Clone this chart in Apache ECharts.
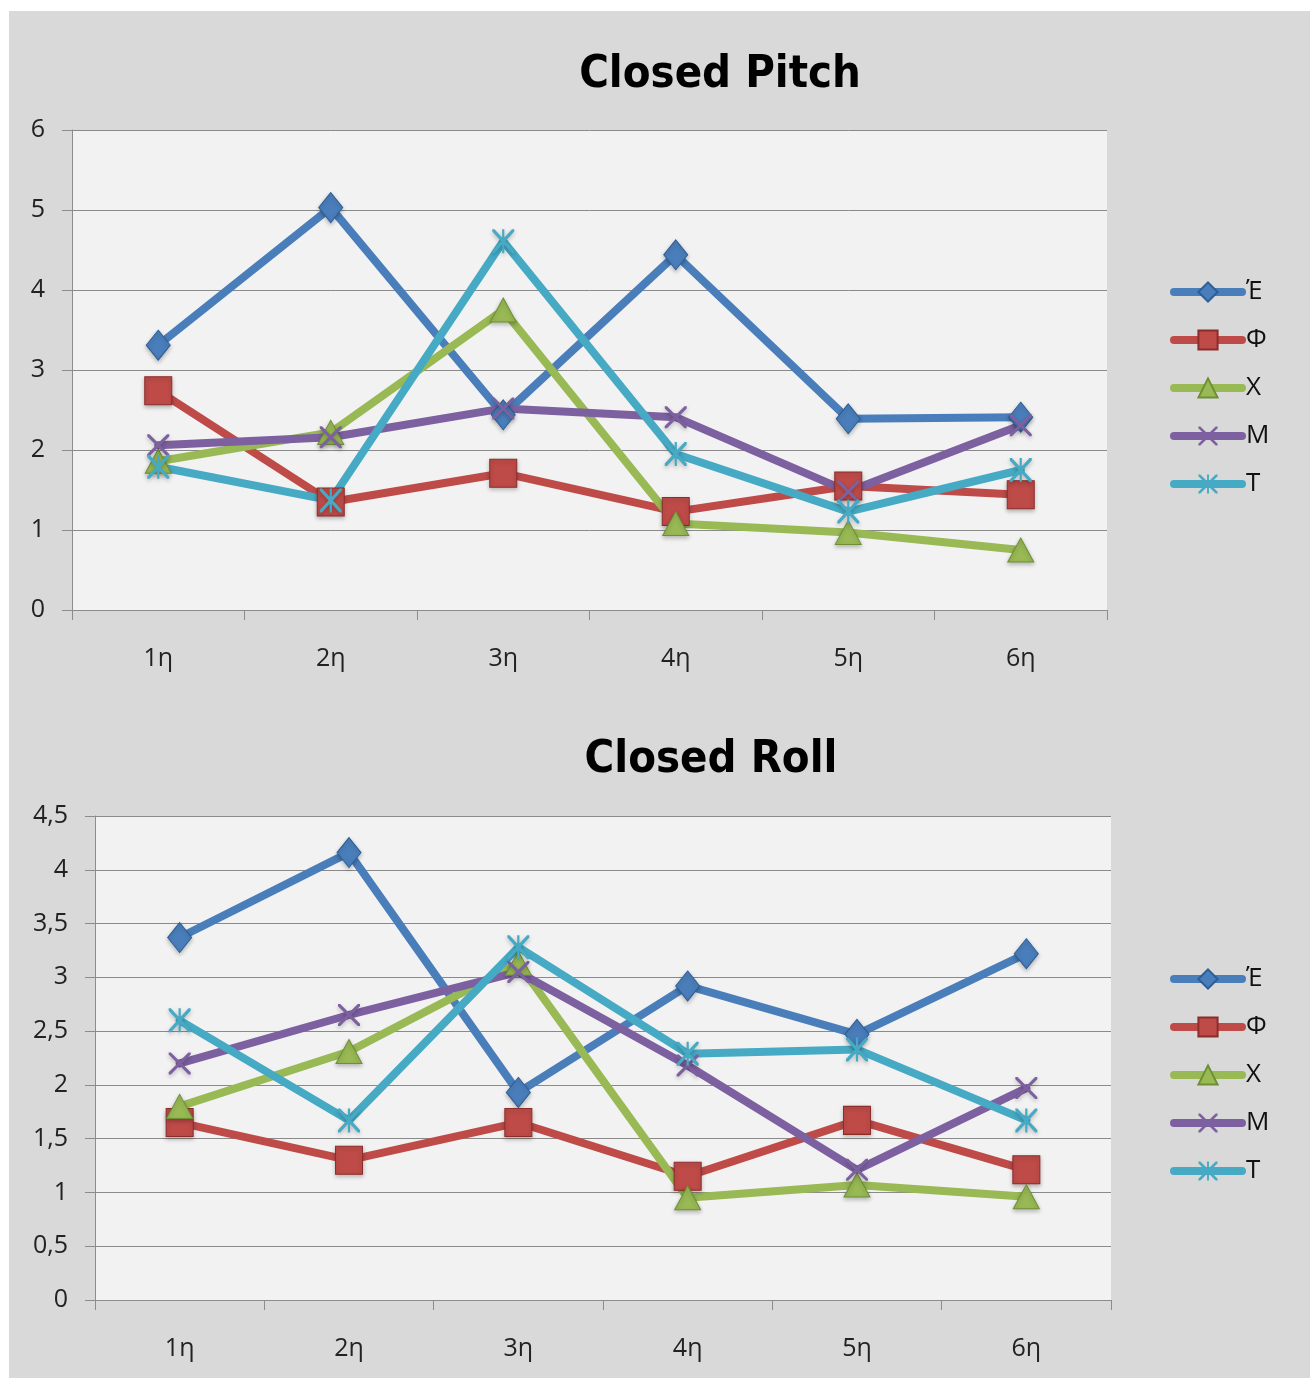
<!DOCTYPE html>
<html>
<head>
<meta charset="utf-8">
<script src="https://cdn.jsdelivr.net/npm/echarts@6/dist/echarts.min.js"></script>
<style>
  html, body { margin: 0; padding: 0; background: #ffffff; }
  #chart { position: absolute; left: 9px; top: 11px; width: 1301px; height: 1367px; }
</style>
</head>
<body>
<div id="chart"></div>
<script>
// Session categories and series names
const categories = ['1η', '2η', '3η', '4η', '5η', '6η'];
const seriesNames = ['Έ', 'Φ', 'Χ', 'Μ', 'Τ'];

// Closed Pitch values per series
const pitchE = [3.31, 5.03, 2.44, 4.44, 2.39, 2.41];
const pitchF = [2.74, 1.35, 1.71, 1.23, 1.55, 1.44];
const pitchX = [1.86, 2.22, 3.75, 1.08, 0.97, 0.75];
const pitchM = [2.06, 2.16, 2.52, 2.41, 1.48, 2.31];
const pitchT = [1.79, 1.37, 4.61, 1.95, 1.23, 1.75];

// Closed Roll values per series
const rollE = [3.37, 4.16, 1.93, 2.92, 2.47, 3.22];
const rollF = [1.65, 1.30, 1.65, 1.15, 1.67, 1.21];
const rollX = [1.80, 2.31, 3.13, 0.95, 1.07, 0.96];
const rollM = [2.20, 2.65, 3.05, 2.18, 1.21, 1.97];
const rollT = [2.60, 1.67, 3.28, 2.29, 2.33, 1.67];

// Axis tick settings
const pitchTicks = { min: 0, max: 6, interval: 1 };
const rollTicks = { min: 0, max: 4.5, interval: 0.5 };

const colors = ['#4a7ebb', '#be4b48', '#98b954', '#7d60a0', '#46aac5'];
const borders = ['#2c5d96', '#8c2d2a', '#6f8f35', '#5a4080', '#2b8aa5'];

const crossPath = 'path://M0,0 L2,0 L10,8 L18,0 L20,0 L20,2 L12,10 L20,18 L20,20 L18,20 L10,12 L2,20 L0,20 L0,18 L8,10 L0,2 Z';
const starPath = 'path://M0,0 L2,0 L10,8 L18,0 L20,0 L20,2 L12,10 L20,18 L20,20 L18,20 L10,12 L2,20 L0,20 L0,18 L8,10 L0,2 Z M9,0 L11,0 L11,20 L9,20 Z';
const symbols = ['diamond', 'rect', 'triangle', crossPath, starPath];
const symbolSizes = [[24, 30], [27, 28], [26, 24], [22, 22], [22, 24]];

const FONT = '"Open Sans", "Noto Sans", sans-serif';
const TITLE_FONT = '"Liberation Sans Narrow", "DejaVu Sans Condensed", "Open Sans", sans-serif';

function makeSeries(dataList, gridIdx) {
  return dataList.map((d, i) => ({
    name: seriesNames[i],
    type: 'line',
    xAxisIndex: gridIdx,
    yAxisIndex: gridIdx,
    data: d,
    symbol: symbols[i],
    symbolSize: symbolSizes[i],
    showAllSymbol: true,
    lineStyle: { width: 8, color: colors[i], cap: 'round', join: 'round' },
    itemStyle: {
      color: colors[i],
      borderColor: i < 3 ? borders[i] : colors[i],
      borderWidth: i < 3 ? 1 : 0,
      shadowColor: 'rgba(0,0,0,0.25)',
      shadowBlur: 4,
      shadowOffsetY: 2
    },
    emphasis: { disabled: true },
    animation: false
  }));
}

function xAxisFor(gridIdx) {
  return {
    type: 'category',
    gridIndex: gridIdx,
    data: categories,
    boundaryGap: true,
    axisLine: { lineStyle: { color: '#8c8c8c', width: 1 } },
    axisTick: { show: true, length: 10, lineStyle: { color: '#8c8c8c' } },
    axisLabel: { color: '#222', fontSize: 25, fontFamily: FONT, margin: 36 }
  };
}

function yAxisFor(gridIdx, ticks, comma) {
  return {
    type: 'value',
    gridIndex: gridIdx,
    min: ticks.min,
    max: ticks.max,
    interval: ticks.interval,
    axisLine: { show: true, lineStyle: { color: '#8c8c8c', width: 1 } },
    axisTick: { show: true, length: 10, lineStyle: { color: '#8c8c8c' } },
    splitLine: { lineStyle: { color: '#8a8a8a', width: 1 } },
    axisLabel: {
      color: '#222', fontSize: 25, fontFamily: FONT, margin: 27,
      formatter: v => comma ? String(v).replace('.', ',') : String(v)
    }
  };
}

function legendFor(top) {
  return {
    orient: 'vertical',
    left: 1156,
    top: top,
    data: seriesNames,
    itemWidth: 68,
    itemHeight: 24,
    itemGap: 22,
    lineStyle: { width: 8, cap: 'round' },
    textStyle: { color: '#111', fontSize: 26, fontFamily: FONT, padding: [0, 0, 0, -1] },
    selectedMode: false
  };
}

const chart = echarts.init(document.getElementById('chart'), null, { renderer: 'canvas' });
chart.setOption({
  backgroundColor: '#d9d9d9',
  animation: false,
  title: [
    {
      text: 'Closed Pitch', left: 706, top: 37, textAlign: 'center',
      textStyle: { fontSize: 45, fontWeight: 'bold', color: '#000', fontFamily: TITLE_FONT }
    },
    {
      text: 'Closed Roll', left: 697, top: 722, textAlign: 'center',
      textStyle: { fontSize: 45, fontWeight: 'bold', color: '#000', fontFamily: TITLE_FONT }
    }
  ],
  legend: [legendFor(263), legendFor(950)],
  grid: [
    { left: 63, top: 119, width: 1035, height: 480, show: true, backgroundColor: '#f2f2f2', borderWidth: 0 },
    { left: 86, top: 805, width: 1016, height: 484, show: true, backgroundColor: '#f2f2f2', borderWidth: 0 }
  ],
  xAxis: [xAxisFor(0), xAxisFor(1)],
  yAxis: [yAxisFor(0, pitchTicks, false), yAxisFor(1, rollTicks, true)],
  series: [
    ...makeSeries([pitchE, pitchF, pitchX, pitchM, pitchT], 0),
    ...makeSeries([rollE, rollF, rollX, rollM, rollT], 1)
  ]
});
</script>
</body>
</html>
